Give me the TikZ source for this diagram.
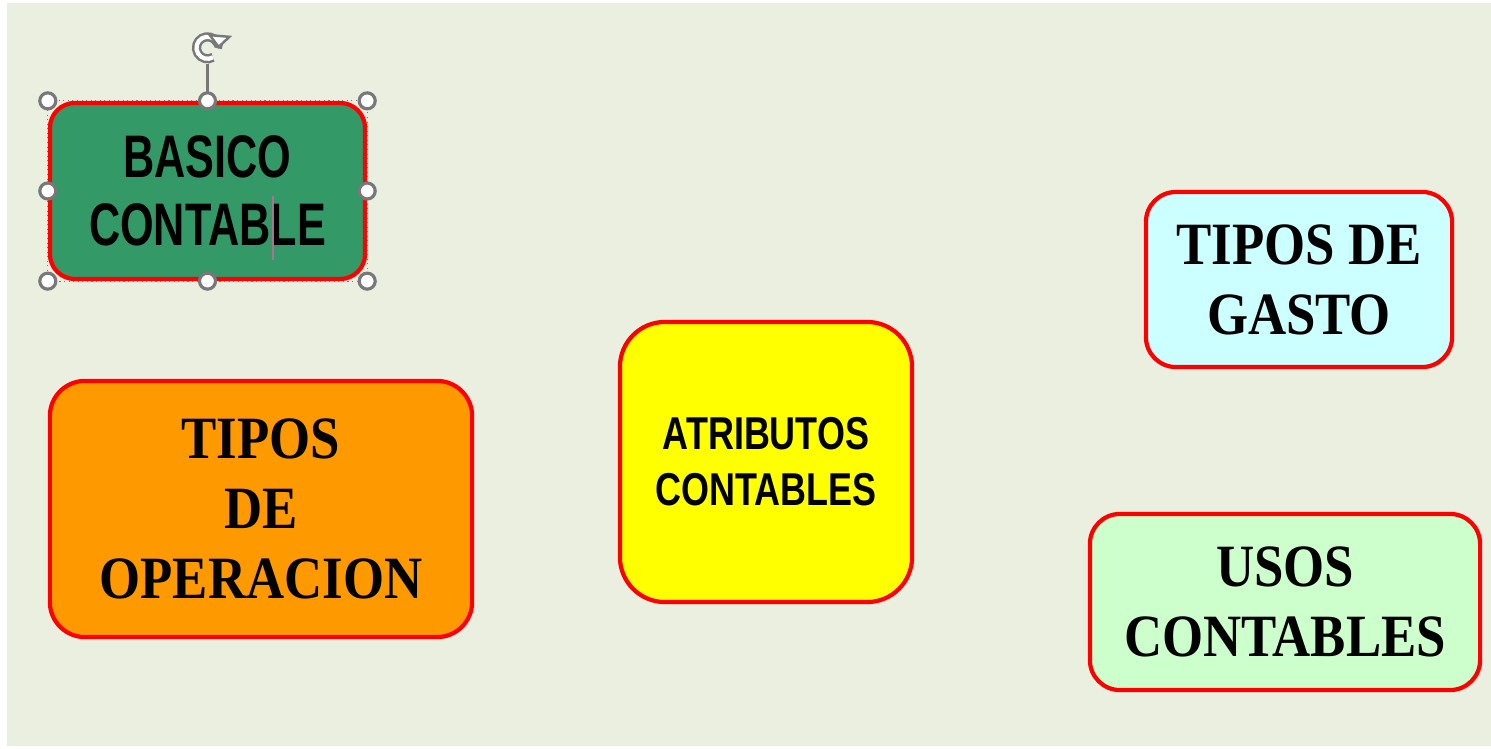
\documentclass[tikz,border=0pt]{standalone}
\usepackage{fontspec}
\usetikzlibrary{arrows.meta}
\newfontfamily\timesbf{Liberation Serif}[FakeStretch=0.88]
\newfontfamily\narrowbf{Liberation Sans}[FakeStretch=0.72]
\newfontfamily\midbf{Liberation Sans}[FakeStretch=0.78]
\definecolor{bgbeige}{RGB}{235,239,223}
\definecolor{boxred}{RGB}{255,0,0}
\definecolor{basgreen}{RGB}{51,153,102}
\definecolor{oporange}{RGB}{255,153,0}
\definecolor{atyellow}{RGB}{255,255,0}
\definecolor{gascyan}{RGB}{204,255,255}
\definecolor{usogreen}{RGB}{204,255,204}
\definecolor{handlegray}{RGB}{120,120,120}
\definecolor{cursorpink}{RGB}{176,112,144}
\tikzset{box/.style={ % Sets the properties for each box
draw=boxred,
line width=1.2pt,
rounded corners=0.3cm,
inner sep=0pt,
align=center},
serifbig/.style={font=\timesbf\bfseries\fontsize{17.07pt}{19.9pt}\selectfont},
sansbig/.style={font=\narrowbf\bfseries\fontsize{17.07pt}{19.35pt}\selectfont},
sansmid/.style={font=\midbf\bfseries\fontsize{13.1pt}{15.9pt}\selectfont},
handle/.style={ % Selection handles round the chosen box
circle,
draw=handlegray,
fill=white,
line width=0.9pt,
minimum size=0.16cm,
inner sep=0pt},
selframe/.style={draw=handlegray, densely dotted, line width=0.3pt}}

\begin{document}
\begin{tikzpicture}[x=0.01cm, y=-0.01cm]
\fill[white] (0,0) rectangle (1491,749);
\fill[bgbeige] (7,3) rectangle (1491,746);

\node[box, sansbig, fill=basgreen, minimum width=3.15cm, minimum height=1.76cm, rounded corners=0.25cm] (basico) at (207.5,191) {BASICO\\CONTABLE};
\node[box, serifbig, fill=oporange, minimum width=4.22cm, minimum height=2.56cm, rounded corners=0.35cm] (operacion) at (261,509) {TIPOS\\DE\\OPERACION};
\node[box, sansmid, fill=atyellow, minimum width=2.92cm, minimum height=2.8cm, rounded corners=0.45cm] (atributos) at (766,462) {ATRIBUTOS\\CONTABLES};
\node[box, serifbig, fill=gascyan, minimum width=3.06cm, minimum height=1.75cm] (gasto) at (1299,279.5) {TIPOS DE\\GASTO};
\node[box, serifbig, fill=usogreen, minimum width=3.9cm, minimum height=1.76cm] (usos) at (1285,602) {USOS\\CONTABLES};

% text cursor
\draw[cursorpink, line width=0.5pt] (273,196) -- (273,260);

% selection of the first box
\draw[selframe] (basico.north west) rectangle (basico.south east);
\node[minimum size=0.3cm, inner sep=0pt] (rot) at ([yshift=0.53cm]basico.north) {};
\draw[handlegray, line width=0.6pt] (rot.south) -- (basico.north);
\begin{scope}[x=1cm, y=1cm]
\draw[handlegray, line width=0.7pt, double=white, double distance=1.2pt, -{Triangle[length=4pt,width=7pt,open,fill=white]}] (rot.center) ++(300:0.11) arc (300:-5:0.11);
\end{scope}
\foreach \a/\n in {north west/nw, north/n, north east/ne, east/e, south east/se, south/s, south west/sw, west/w}
\node[handle] (h\n) at (basico.\a) {};
\end{tikzpicture}
\end{document}
